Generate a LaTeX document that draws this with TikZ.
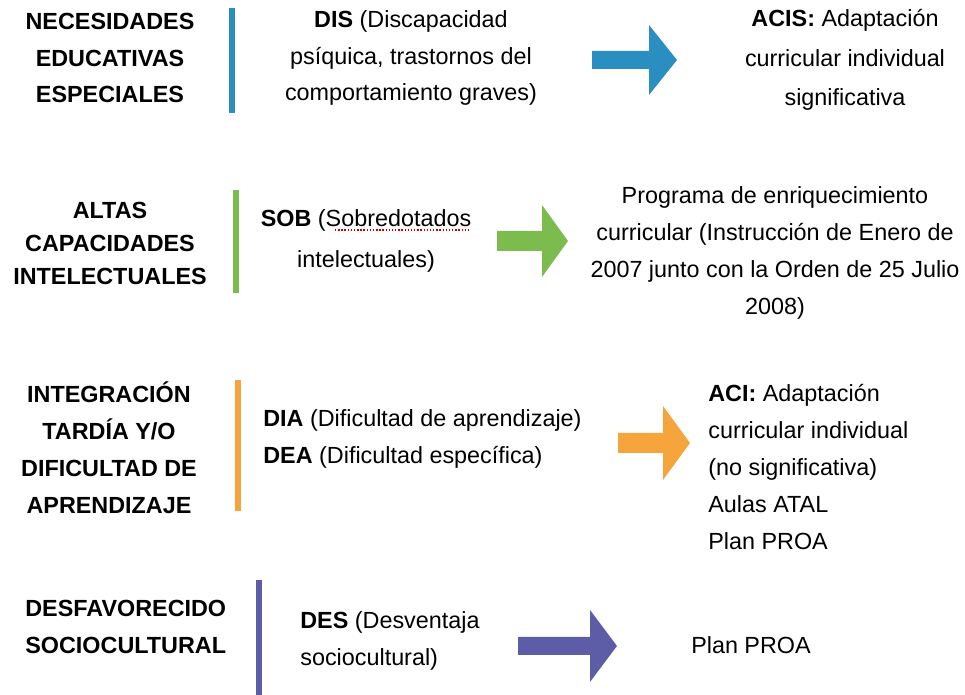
\documentclass[tikz,border=0pt]{standalone}
\usepackage{fontspec}
\setmainfont{Liberation Sans}
\usepackage{tikz}
\usetikzlibrary{%
	calc,%
	positioning
}

\definecolor{neeblue}{HTML}{2A8FC0}
\definecolor{altgreen}{HTML}{7CBB4E}
\definecolor{intorange}{HTML}{F5A53C}
\definecolor{despurple}{HTML}{5D5CA6}

\begin{document}
\begin{tikzpicture}[x=0.02cm,y=-0.02cm,
		txt/.style={inner sep=0pt,font=\fontsize{13.3}{21}\selectfont},
		head/.style={txt,font=\fontsize{13.3}{21}\selectfont\bfseries},
		bar/.style={line width=3.3pt}]
				\useasboundingbox[fill=white] (0,0) rectangle (965,695);
				
				% Headings
				\node[head,align=center] (nee) at (110,58) {NECESIDADES\\EDUCATIVAS\\ESPECIALES};
				\node[head,align=center,font=\fontsize{13.3}{18.8}\selectfont\bfseries] (alt) at (110,243) {ALTAS\\CAPACIDADES\\INTELECTUALES};
				\node[head,align=center] (int) at (109,448) {INTEGRACIÓN\\TARDÍA Y/O\\DIFICULTAD DE\\APRENDIZAJE};
				\node[head,align=left,anchor=west] (des) at (25,627) {DESFAVORECIDO\\SOCIOCULTURAL};
				
				% Bars
				\foreach \col/\x/\ya/\yb in {neeblue/232/8/113,altgreen/236/190/293,intorange/238/380/511,despurple/259/580/695}
				\draw[bar,\col] (\x,\ya) -- (\x,\yb);
				
				% Groups
				\node[txt,align=center] (dis) at (411,58) {\textbf{DIS} (Discapacidad\\psíquica, trastornos del\\comportamiento graves)};
				\node[txt,align=center,font=\fontsize{13.3}{23}\selectfont] (sob) at (366,241) {\textbf{SOB} (Sobredotados\\intelectuales)};
				\node[txt,align=left,anchor=west] (dia) at (263,439) {\textbf{DIA} (Dificultad de aprendizaje)\\\textbf{DEA} (Dificultad específica)};
				\node[txt,align=left,anchor=west] (dsv) at (300,641) {\textbf{DES} (Desventaja\\sociocultural)};
				
				% Spell-check underline
				\draw[red!80!black,densely dotted,line width=0.8pt] (335,230) -- (470,230);
				
				% Arrows
				\foreach \col/\xa/\xh/\xb/\y/\s/\h in {neeblue/592/649/677/60/9/35,altgreen/497/542/568/241/10/36,intorange/618/663/690/443/10/37,despurple/518/590/617/646/9/36}
				\fill[\col] (\xa,\y-\s) -- (\xh,\y-\s) -- (\xh,\y-\h) -- (\xb,\y) -- (\xh,\y+\h) -- (\xh,\y+\s) -- (\xa,\y+\s) -- cycle;
				
				% Measures
				\node[txt,align=center,font=\fontsize{13.3}{22.6}\selectfont] (acis) at (845,60) {\textbf{ACIS:} Adaptación\\curricular individual\\significativa};
				\node[txt,align=center] (prog) at (775,253) {Programa de enriquecimiento\\curricular (Instrucción de Enero de\\2007 junto con la Orden de 25 Julio\\2008)};
				\node[txt,align=left,anchor=west] (aci) at (708,467) {\textbf{ACI:} Adaptación\\curricular individual\\(no significativa)\\Aulas ATAL\\Plan PROA};
				\node[txt] (proa) at (751,645) {Plan PROA};
			\end{tikzpicture}
\end{document}
